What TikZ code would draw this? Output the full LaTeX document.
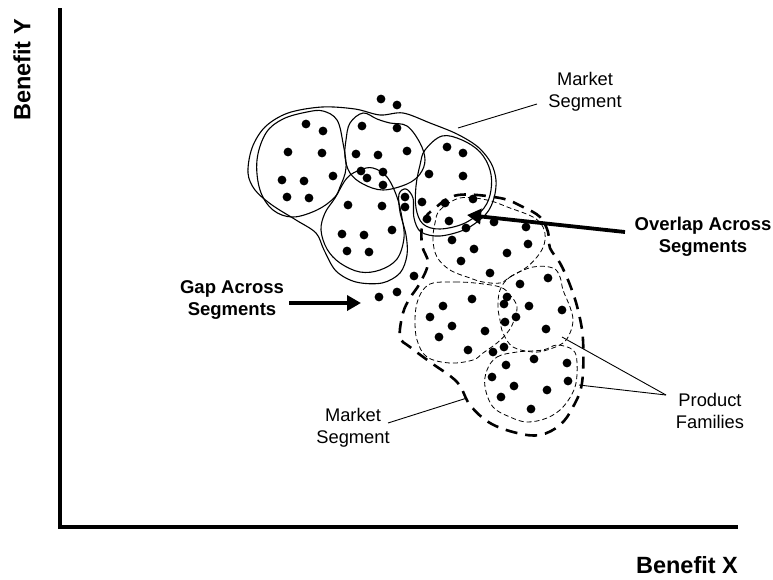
\documentclass[tikz,border=0pt]{standalone}
\usepackage{fontspec}
\setmainfont{Liberation Sans}
\usetikzlibrary{arrows.meta}
\begin{document}
\begin{tikzpicture}[x=1pt,y=-1pt,
  axisline/.style={line width=3.5pt},
  axislabel/.style={font=\bfseries\fontsize{23.5}{28}\selectfont, inner sep=0pt},
  note/.style={font=\fontsize{18.3}{21.7}\selectfont, align=center, inner sep=0pt},
  callout/.style={font=\bfseries\fontsize{18.5}{21.5}\selectfont, align=center, inner sep=0pt},
  pointer/.style={line width=3.8pt, -{Triangle[length=14pt,width=15pt]}},
  leader/.style={line width=0.9pt},
  segline/.style={line width=1.1pt},
  segdash/.style={line width=2.6pt, dash pattern=on 12pt off 8pt},
  famdash/.style={line width=0.8pt, dash pattern=on 5pt off 3pt},
  dot/.style={fill=black}]
\useasboundingbox (0,0) rectangle (773,579);

% axes
\draw[axisline] (60,8) -- (60,527) -- (738,527);
\node[axislabel, rotate=90] (ylab) at (22,70) {Benefit Y};
\node[axislabel] (xlab) at (687,565) {Benefit X};

% upper market segment and its four sub-segments
\draw[segline] plot[smooth cycle, tension=0.55] coordinates {
  (248,173) (252,148) (265,127) (288,113) (322,107) (355,109) (380,115)
  (403,113) (430,123) (457,134) (478,147) (491,163) (496,180) (494,198)
  (486,214) (466,229) (440,236) (421,232) (414,218) (413,198) (406,189)
  (399,194) (400,212) (406,235) (407,255) (400,273) (382,283) (356,282)
  (336,271) (324,250) (316,233) (296,220) (272,205) (255,190)};
\draw[segline] plot[smooth cycle, tension=0.6] coordinates {
  (257,160) (266,133) (283,119) (307,112) (323,111) (337,120) (343,143)
  (346,168) (340,187) (334,198) (317,210) (293,217) (273,210) (260,190)};
\draw[segline] plot[smooth cycle, tension=0.6] coordinates {
  (346,140) (350,123) (363,113) (377,119) (390,123) (407,126) (420,143)
  (425,160) (420,174) (407,184) (383,190) (363,184) (350,173) (345,157)};
\draw[segline] plot[smooth cycle, tension=0.6] coordinates {
  (425,150) (442,136) (462,140) (480,152) (490,170) (491,190) (484,208)
  (465,223) (440,229) (423,224) (416,208) (416,186) (420,165)};
\draw[segline] plot[smooth cycle, tension=0.6] coordinates {
  (335,198) (347,178) (360,170) (373,168) (387,177) (397,197) (402,218)
  (404,238) (397,259) (380,270) (360,272) (340,263) (327,249) (321,230)
  (325,213)};

% lower market segment (dashed) and product families
\draw[segdash] plot[smooth cycle, tension=0.6] coordinates {
  (400,337) (403,313) (410,298) (420,283) (428,263) (422,245) (423,222)
  (435,208) (458,195) (500,198) (523,207) (540,217) (548,232) (550,248)
  (560,263) (570,285) (578,310) (583,340) (582,383) (573,407) (560,425)
  (540,435) (517,433) (490,423) (470,405) (457,382) (430,362) (410,347)};
\draw[famdash] plot[smooth cycle, tension=0.6] coordinates {
  (440,210) (460,198) (487,200) (510,208) (533,217) (543,227) (545,240)
  (540,253) (527,267) (510,277) (500,283) (483,282) (470,278) (450,270)
  (437,257) (433,240) (435,223)};
\draw[famdash] plot[smooth cycle, tension=0.6] coordinates {
  (433,283) (455,282) (475,283) (500,287) (510,295) (517,307) (513,323)
  (507,333) (497,343) (483,353) (473,360) (450,363) (427,357) (417,340)
  (415,320) (417,303) (423,290)};
\draw[famdash] plot[smooth cycle, tension=0.6] coordinates {
  (500,290) (510,277) (533,267) (553,268) (560,277) (563,290) (570,307)
  (573,320) (570,333) (563,343) (547,350) (533,352) (513,347) (503,333)
  (500,320) (498,307)};
\draw[famdash] plot[smooth cycle, tension=0.6] coordinates {
  (487,370) (497,357) (517,352) (543,350) (557,345) (573,350) (577,363)
  (575,387) (563,407) (547,418) (527,422) (510,417) (493,407) (485,387)};

% customers
\foreach \p in {
  (306,124),(323,131),(288,152),(322,153),(282,180),(304,181),(333,176),
  (287,197),(309,198),
  (381,99),(397,105),
  (362,126),(397,128),(356,154),(378,155),(407,151),(361,171),(367,178),
  (383,172),(383,185),
  (447,147),(463,153),(429,174),(463,176),(422,202),(445,203),(473,199),
  (405,197),(405,207),
  (348,205),(382,206),(392,230),(342,234),(364,235),(347,251),(369,252),
  (427,219),(449,221),(466,228),
  (494,222),(526,227),(452,240),(474,249),(507,253),(528,244),(461,261),
  (490,273),
  (379,297),(397,292),(414,276),
  (548,278),(520,284),(507,297),(504,304),(516,317),(505,322),(443,306),
  (472,299),(430,317),(452,326),(485,331),(529,306),(562,310),(439,337),
  (546,329),
  (468,350),(493,352),(504,347),(506,365),(534,359),(567,363),(492,377),
  (514,386),(547,390),(568,381),(501,397),(531,409)}
  \fill[dot] \p circle[radius=4.4pt];

% labels
\node[note] (segtop) at (585,92) {Market\\Segment};
\node[note] (segbot) at (353,428) {Market\\Segment};
\node[note] (families) at (710,411) {Product\\Families};
\node[callout] (overlap) at (703,237) {Overlap Across\\Segments};
\node[callout] (gap) at (232,300) {Gap Across\\Segments};

% leader ends
\coordinate (segtopfrom) at (537,104);
\coordinate (segtopto) at (458,128);
\coordinate (segbotfrom) at (388,423);
\coordinate (segbotto) at (467,398);
\coordinate (famfrom) at (666,395);
\coordinate (famtoA) at (562,337);
\coordinate (famtoB) at (579,385);
\coordinate (overlapfrom) at (625,232);
\coordinate (overlapto) at (467,215);
\coordinate (gapfrom) at (289,303);
\coordinate (gapto) at (361,303);

\draw[leader] (segtopfrom) -- (segtopto);
\draw[leader] (segbotfrom) -- (segbotto);
\draw[leader] (famfrom) -- (famtoA);
\draw[leader] (famfrom) -- (famtoB);
\draw[pointer] (overlapfrom) -- (overlapto);
\draw[pointer] (gapfrom) -- (gapto);
\end{tikzpicture}
\end{document}
